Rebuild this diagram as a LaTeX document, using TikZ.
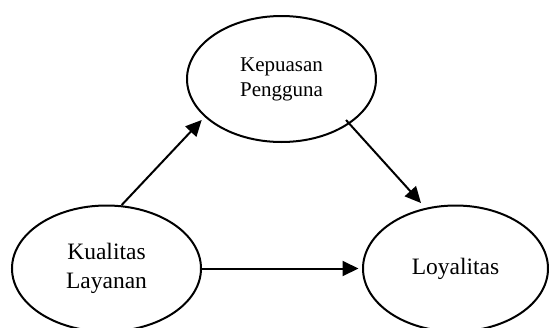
\documentclass[tikz,border=0pt]{standalone}
\usepackage{fontspec}
\setmainfont{Liberation Serif}
\usetikzlibrary{shapes.geometric,arrows.meta}
\tikzset{
  var/.style={draw, ellipse, line width=2pt, inner sep=0pt, align=center},
  conn/.style={line width=2pt, -{Triangle[length=16pt,width=15pt]}}
}
\begin{document}
\begin{tikzpicture}[x=1pt,y=-1pt]
\useasboundingbox (0,0) rectangle (549,327);
\node[var, minimum width=189pt, minimum height=126pt, font=\fontsize{21}{25}\selectfont] (kp) at (281.5,79) {Kepuasan\\Pengguna};
\node[var, minimum width=189pt, minimum height=126pt, font=\fontsize{23.5}{29}\selectfont] (kl) at (106.5,268.5) {Kualitas\\Layanan};
\node[var, minimum width=185pt, minimum height=126pt, font=\fontsize{23.5}{29}\selectfont] (loy) at (455.5,268.5) {\raisebox{-3pt}{Loyalitas}};
\draw[conn] ([shift={(15.2,-63.5)}]kl.center) -- ([shift={(-79.8,41)}]kp.center);
\draw[conn] ([shift={(64.5,41)}]kp.center) -- ([shift={(-34.5,-65.5)}]loy.center);
\draw[conn] (kl.east) -- ([shift={(-97,0)}]loy.center);
\end{tikzpicture}
\end{document}
